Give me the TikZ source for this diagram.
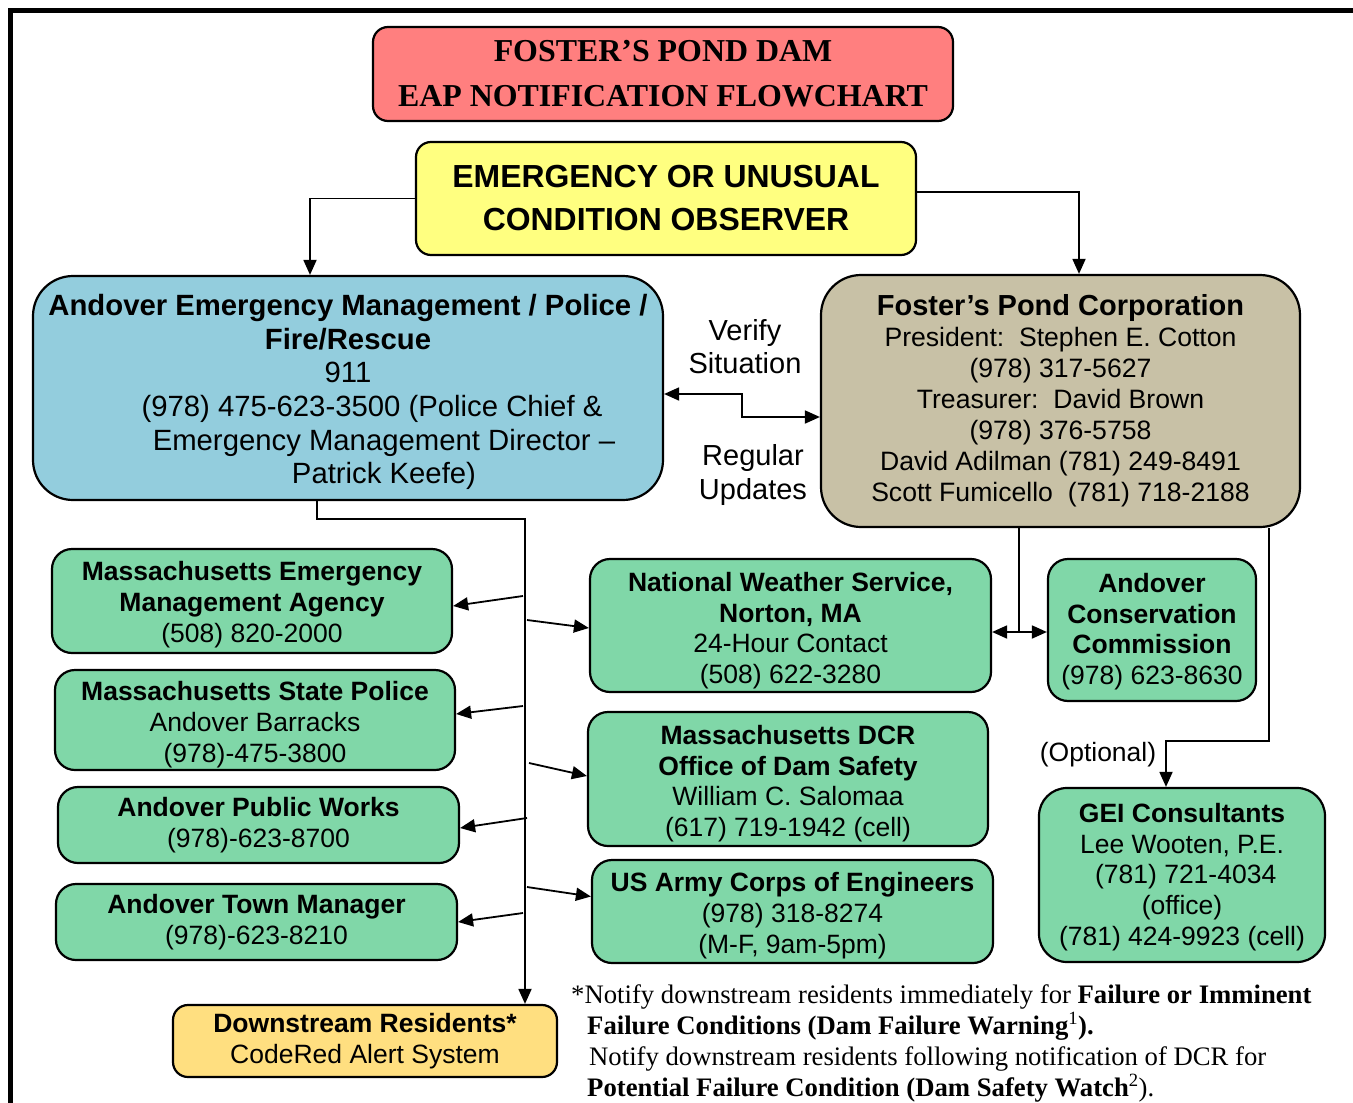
\documentclass[tikz,border=0pt]{standalone}
\usepackage{fontspec}
\setmainfont{Liberation Serif}
\setsansfont{Liberation Sans}
\usetikzlibrary{arrows.meta}
\definecolor{titlered}{HTML}{FF7F7F}
\definecolor{obsyellow}{HTML}{FFFF80}
\definecolor{aemblue}{HTML}{93CDDD}
\definecolor{fpctan}{HTML}{C8C1A6}
\definecolor{boxgreen}{HTML}{80D7A8}
\definecolor{downyellow}{HTML}{FFDF80}
\newcommand\txtdown[1]{\rule{0pt}{#1pt}}
\tikzset{
  box/.style={draw=black, line width=2.2pt, align=center, inner sep=0pt,
    font=\sffamily\fontsize{26.5}{30.6}\selectfont},
  greenbox/.style={box, fill=boxgreen, rounded corners=20pt},
  arr/.style={line width=1.8pt, -{Triangle[length=15pt,width=13pt]}},
  arrboth/.style={line width=1.8pt, {Triangle[length=15pt,width=13pt]}-{Triangle[length=15pt,width=13pt]}},
  conn/.style={line width=1.8pt},
  lbl/.style={inner sep=0pt, align=center, font=\sffamily\fontsize{29}{33.5}\selectfont},
  fn/.style={inner sep=0pt, anchor=base west, font=\rmfamily\fontsize{26.7}{30.7}\selectfont}
}
\begin{document}
\begin{tikzpicture}[x=1pt,y=-1pt]
\useasboundingbox (0,0) rectangle (1353,1103);
% frame
\draw[line width=5pt] (10.5,1103) -- (10.5,10.5) -- (1353,10.5);

% boxes
\node[box, fill=titlered, rounded corners=15pt, minimum width=580pt, minimum height=94pt,
  font=\rmfamily\bfseries\fontsize{31.9}{45}\selectfont] (title) at (663,74)
  {FOSTER’S POND DAM\\EAP NOTIFICATION FLOWCHART};
\node[box, fill=obsyellow, rounded corners=15pt, minimum width=500pt, minimum height=113pt,
  font=\sffamily\bfseries\fontsize{31.9}{43}\selectfont] (obs) at (666,198.5)
  {EMERGENCY OR UNUSUAL\\CONDITION OBSERVER};
\node[box, fill=aemblue, rounded corners=40pt, minimum width=630pt, minimum height=224pt,
  font=\sffamily\fontsize{29.3}{33.6}\selectfont] (aem) at (348,388)
  {\txtdown{29.5}{\bfseries Andover Emergency Management / Police /}\\
   {\bfseries Fire/Rescue}\\
   911\\
   \hspace*{48pt}(978) 475-623-3500 (Police Chief \&\\
   \hspace*{72pt}Emergency Management Director –\\
   \hspace*{72pt}Patrick Keefe)};
\node[box, fill=fpctan, rounded corners=40pt, minimum width=479pt, minimum height=252pt,
  font=\sffamily\fontsize{26.6}{31}\selectfont] (fpc) at (1060.5,401)
  {{\bfseries\fontsize{29}{31}\selectfont Foster{\char"27}s Pond Corporation}\\
   President:\ \ Stephen E. Cotton\\
   (978) 317-5627\\
   Treasurer:\ \ David Brown\\
   (978) 376-5758\\
   David Adilman (781) 249-8491\\
   Scott Fumicello\ \ (781) 718-2188};

\node[greenbox, minimum width=400pt, minimum height=104pt] (mema) at (252,601)
  {\txtdown{26.3}{\bfseries Massachusetts Emergency}\\{\bfseries Management Agency}\\(508) 820-2000};
\node[greenbox, minimum width=400pt, minimum height=100pt] (msp) at (255,720)
  {\txtdown{28.3}{\bfseries Massachusetts State Police}\\Andover Barracks\\(978)-475-3800};
\node[greenbox, minimum width=401pt, minimum height=76pt] (apw) at (258.5,825)
  {{\bfseries Andover Public Works}\\(978)-623-8700};
\node[greenbox, minimum width=401pt, minimum height=76pt] (atm) at (256.5,922)
  {{\bfseries Andover Town Manager}\\(978)-623-8210};

\node[greenbox, minimum width=401pt, minimum height=133pt] (nws) at (790.5,625.5)
  {\txtdown{29.3}{\bfseries National Weather Service,}\\{\bfseries Norton, MA}\\24-Hour Contact\\(508) 622-3280};
\node[greenbox, minimum width=400pt, minimum height=134pt] (dcr) at (788,779)
  {\txtdown{28.3}{\bfseries Massachusetts DCR}\\{\bfseries Office of Dam Safety}\\William C. Salomaa\\(617) 719-1942 (cell)};
\node[greenbox, minimum width=401pt, minimum height=103pt] (usace) at (792.5,911.5)
  {\txtdown{27.3}{\bfseries US Army Corps of Engineers}\\(978) 318-8274\\(M-F, 9am-5pm)};

\node[greenbox, minimum width=208pt, minimum height=142pt] (acc) at (1152,630)
  {\txtdown{22.3}{\bfseries Andover}\\{\bfseries Conservation}\\{\bfseries Commission}\\(978) 623-8630};
\node[greenbox, rounded corners=28pt, minimum width=286pt, minimum height=174pt] (gei) at (1182,875)
  {\txtdown{23.3}{\bfseries GEI Consultants}\\Lee Wooten, P.E.\\\ (781) 721-4034\\(office)\\(781) 424-9923 (cell)};

\node[box, fill=downyellow, rounded corners=15pt, minimum width=384pt, minimum height=72pt] (down) at (365,1041)
  {{\bfseries Downstream Residents*}\\CodeRed Alert System};

% labels
\node[lbl] (verify) at (745,346.5) {Verify\\Situation};
\node[lbl] (regular) at (753,475) {Regular\\Updates};
\node[inner sep=0pt, font=\sffamily\fontsize{26.5}{30.6}\selectfont] (optional) at (1098,755) {(Optional)};

% footnote
\node[fn] (fn1) at (571,1003) {*Notify downstream residents immediately for \textbf{Failure or Imminent}};
\node[fn] (fn2) at (587,1034) {\textbf{Failure Conditions (Dam Failure Warning}\textsuperscript{1}\textbf{).}};
\node[fn] (fn3) at (589,1065) {Notify downstream residents following notification of DCR for};
\node[fn] (fn4) at (587,1096) {\textbf{Potential Failure Condition (Dam Safety Watch}\textsuperscript{2}).};

% connectors
\draw[arr] (obs.west) -| ([xshift=-38pt]aem.north);
\draw[arr] ([yshift=6.5pt]obs.east) -| ([xshift=18.5pt]fpc.north);
\draw[arrboth] ([yshift=-6pt]aem.east) -- ++(78,0) |- ([yshift=-16pt]fpc.west);

\draw[arr] ([xshift=-31pt]aem.south) -- ++(0,18) -| ([xshift=160pt]down.north);

\coordinate (t1) at (523,596);
\coordinate (t2) at (523,706);
\coordinate (t3) at (527,818);
\coordinate (t4) at (523,913);
\coordinate (t5) at (527,620);
\coordinate (t6) at (529,763);
\coordinate (t7) at (527,887);
\draw[arr] (t1) -- ([yshift=-5pt]mema.east);
\draw[arr] (t2) -- ([yshift=6pt]msp.east);
\draw[arr] (t3) -- ([yshift=-3pt]apw.east);
\draw[arr] (t4) -- (atm.east);
\draw[arr] (t5) -- ([yshift=-2.5pt]nws.west);
\draw[arr] (t6) -- ([yshift=3pt]dcr.west);
\draw[arr] (t7) -- ([yshift=15pt]usace.west);

\coordinate (j) at (1019,632);
\draw[conn] ([xshift=-41.5pt]fpc.south) -- (j);
\draw[arr] (j) -- (nws.east |- j);
\draw[arr] (j) -- (acc.west |- j);

\draw[arr] ([xshift=208.5pt]fpc.south) -- ++(0,213) -| ([xshift=-16pt]gei.north);
\end{tikzpicture}
\end{document}
